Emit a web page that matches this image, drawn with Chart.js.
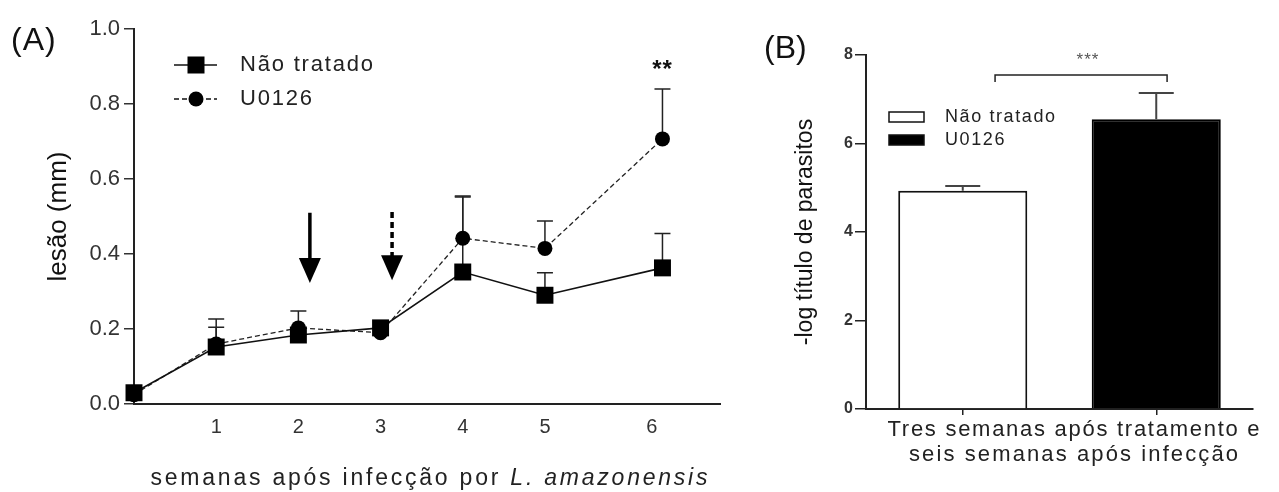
<!DOCTYPE html>
<html><head><meta charset="utf-8">
<script src="https://cdn.jsdelivr.net/npm/chart.js@4.4.1/dist/chart.umd.min.js"></script>
<style>
html,body{margin:0;padding:0;background:#fff;width:1279px;height:492px;overflow:hidden}
#a{position:absolute;left:0;top:0}
#b{position:absolute;left:740px;top:0}
</style></head><body>
<canvas id="a" width="740" height="492"></canvas>
<canvas id="b" width="539" height="492"></canvas>
<script>
// ---------- Panel A data ----------
const weeks = [0, 1, 2, 3, 4, 5, 6.43];
const weekTickValues = [1, 2, 3, 4, 5, 6.3];
const weekTickLabels = ['1', '2', '3', '4', '5', '6'];
const naoTratadoMean = [0.03, 0.152, 0.184, 0.203, 0.352, 0.29, 0.363];
const naoTratadoSem  = [0, 0.053, 0, 0, 0.2, 0.06, 0.092];
const u0126Mean = [0.025, 0.16, 0.203, 0.19, 0.442, 0.415, 0.707];
const u0126Sem  = [0, 0.067, 0.045, 0, 0.113, 0.073, 0.133];
const lesionTicks = [0, 0.2, 0.4, 0.6, 0.8, 1.0];
const arrowWeeks = [2.14, 3.14];
const arrowFrom = [0.51, 0.512];
const arrowTo = [0.323, 0.33];
const arrowDashed = [false, true];
const sigA = {week: 6.43, level: 0.89, text: '**'};

// ---------- Panel B data ----------
const groups = ['Não tratado', 'U0126'];
const parasiteLog = [4.93, 6.55];
const parasiteSem = [0.11, 0.59];
const parasiteTicks = [0, 2, 4, 6, 8];
const bracket = {from: 0.167, to: 1.056, level: 7.55, drop: 7.39, starLevel: 7.88, starAt: 0.647, text: '***'};

const FONT = "'Liberation Sans', Arial, sans-serif";

function spacedText(ctx, segs, x, y, opts) {
  ctx.save();
  ctx.textBaseline = 'middle';
  ctx.textAlign = 'left';
  ctx.fillStyle = opts.color || '#222';
  ctx.letterSpacing = '0px';
  let w0 = 0, n = 0;
  const widths = segs.map(s => { ctx.font = s.font; const w = ctx.measureText(s.text).width; w0 += w; n += s.text.length; return w; });
  let ls = opts.spacing || 0;
  if (opts.width) ls = (opts.width - w0) / Math.max(1, n - 1);
  const total = w0 + ls * (n - 1);
  let sx = opts.align === 'left' ? x : x - total / 2;
  ctx.letterSpacing = ls + 'px';
  segs.forEach((s, i) => {
    ctx.font = s.font;
    ctx.fillText(s.text, sx, y);
    sx += widths[i] + ls * s.text.length;
  });
  ctx.restore();
}

const panelAPlugin = {
  id: 'panelA',
  beforeDatasetsDraw(chart) {
    const {ctx, scales: {x, y}} = chart;
    ctx.save();
    ctx.strokeStyle = '#222';
    ctx.lineWidth = 1.5;
    chart.data.datasets.forEach(ds => {
      ds.data.forEach((p, i) => {
        const e = ds.errors[i];
        if (!e) return;
        const px = x.getPixelForValue(p.x), y0 = y.getPixelForValue(p.y), y1 = y.getPixelForValue(p.y + e);
        ctx.beginPath();
        ctx.moveTo(px, y0); ctx.lineTo(px, y1);
        ctx.moveTo(px - 8, y1); ctx.lineTo(px + 8, y1);
        ctx.stroke();
      });
    });
    ctx.restore();
  },
  afterDraw(chart) {
    const {ctx, chartArea: ca, scales: {x, y}} = chart;
    arrowWeeks.forEach((w, i) => {
      const px = x.getPixelForValue(w), yt = y.getPixelForValue(arrowFrom[i]), yb = y.getPixelForValue(arrowTo[i]);
      const headH = 25, headW = 11;
      ctx.save();
      ctx.strokeStyle = '#000'; ctx.fillStyle = '#000'; ctx.lineWidth = 3.5;
      if (arrowDashed[i]) ctx.setLineDash([6, 4]);
      ctx.beginPath(); ctx.moveTo(px, yt); ctx.lineTo(px, yb - headH + 2); ctx.stroke();
      ctx.setLineDash([]);
      ctx.beginPath();
      ctx.moveTo(px - headW, yb - headH); ctx.lineTo(px + headW, yb - headH); ctx.lineTo(px, yb);
      ctx.closePath(); ctx.fill();
      ctx.restore();
    });
    ctx.save();
    ctx.font = 'bold 24px ' + FONT; ctx.fillStyle = '#111'; ctx.textAlign = 'center'; ctx.textBaseline = 'middle';
    ctx.letterSpacing = '1px';
    ctx.fillText(sigA.text, x.getPixelForValue(sigA.week), y.getPixelForValue(sigA.level));
    ctx.restore();
    const ds = chart.data.datasets;
    const rows = [ca.top + 36, ca.top + 70];
    ds.forEach((d, i) => {
      const yy = rows[i];
      ctx.save();
      ctx.strokeStyle = '#111'; ctx.lineWidth = 1.5;
      if (d.borderDash) ctx.setLineDash(d.borderDash);
      ctx.beginPath(); ctx.moveTo(ca.left + 40, yy); ctx.lineTo(ca.left + 83, yy); ctx.stroke();
      ctx.setLineDash([]);
      ctx.fillStyle = '#000';
      const cx = ca.left + 62;
      if (d.pointStyle === 'rect') { ctx.fillRect(cx - 8.5, yy - 8.5, 17, 17); }
      else { ctx.beginPath(); ctx.arc(cx, yy, 7.5, 0, Math.PI * 2); ctx.fill(); }
      ctx.restore();
      spacedText(ctx, [{text: d.label, font: '22px ' + FONT}], ca.left + 106, yy, {align: 'left', spacing: 1.8, color: '#222'});
    });
    spacedText(ctx, [{text: '(A)', font: '32px ' + FONT}], 11, 41, {align: 'left', spacing: 1, color: '#111'});
    spacedText(ctx, [
      {text: 'semanas após infecção por ', font: '23px ' + FONT},
      {text: 'L. amazonensis', font: 'italic 23px ' + FONT}
    ], (ca.left + ca.right) / 2 + 2, 479, {width: 557, color: '#222'});
  }
};

new Chart(document.getElementById('a'), {
  type: 'scatter',
  data: {
    datasets: [
      {
        label: 'Não tratado',
        data: weeks.map((w, i) => ({x: w, y: naoTratadoMean[i]})),
        errors: naoTratadoSem,
        showLine: true, clip: false,
        borderColor: '#111', borderWidth: 1.6,
        pointStyle: 'rect', pointRadius: 12, pointHoverRadius: 12,
        pointBackgroundColor: '#000', pointBorderColor: '#000', pointBorderWidth: 0
      },
      {
        label: 'U0126',
        data: weeks.map((w, i) => ({x: w, y: u0126Mean[i]})),
        errors: u0126Sem,
        showLine: true, clip: false,
        borderColor: '#222', borderWidth: 1.3, borderDash: [5, 3],
        pointStyle: 'circle', pointRadius: 7.5, pointHoverRadius: 7.5,
        pointBackgroundColor: '#000', pointBorderColor: '#000', pointBorderWidth: 0
      }
    ]
  },
  options: {
    responsive: false, animation: false, devicePixelRatio: 1,
    layout: {padding: {left: 0, top: 29, right: 20, bottom: 0}},
    plugins: {legend: {display: false}, tooltip: {enabled: false}},
    scales: {
      x: {
        type: 'linear', min: 0, max: 7.13,
        afterFit(s) { s.height = 88; },
        afterBuildTicks(s) { s.ticks = weekTickValues.map(v => ({value: v})); },
        ticks: {callback: (v, i) => weekTickLabels[i], font: {family: FONT, size: 20}, color: '#333', padding: 11, maxRotation: 0, autoSkip: false},
        grid: {display: false, drawTicks: false},
        border: {display: true, color: '#222', width: 2}
      },
      y: {
        min: 0, max: 1,
        afterFit(s) { s.width = 134; },
        afterBuildTicks(s) { s.ticks = lesionTicks.map(v => ({value: v})); },
        ticks: {callback: v => v.toFixed(1), font: {family: FONT, size: 22}, color: '#333', padding: 4},
        grid: {drawOnChartArea: false, drawTicks: true, tickLength: 10, color: '#333', lineWidth: 1.5},
        border: {color: '#222', width: 2},
        title: {display: true, text: 'lesão (mm)', font: {family: FONT, size: 26}, color: '#111', padding: {top: 43, bottom: 0}}
      }
    }
  },
  plugins: [panelAPlugin]
});

const panelBPlugin = {
  id: 'panelB',
  afterDatasetsDraw(chart) {
    const {ctx, scales: {x, y}} = chart;
    ctx.save();
    ctx.strokeStyle = '#444'; ctx.lineWidth = 2;
    chart.data.datasets.forEach(ds => {
      ds.data.forEach((v, i) => {
        const e = ds.errors[i];
        if (v == null || !e) return;
        const px = x.getPixelForValue(i), y0 = y.getPixelForValue(v), y1 = y.getPixelForValue(v + e);
        ctx.beginPath();
        ctx.moveTo(px, y0); ctx.lineTo(px, y1);
        ctx.moveTo(px - 17.5, y1); ctx.lineTo(px + 17.5, y1);
        ctx.stroke();
      });
    });
    const bx0 = x.getPixelForValue(bracket.from), bx1 = x.getPixelForValue(bracket.to);
    const by = y.getPixelForValue(bracket.level), bd = y.getPixelForValue(bracket.drop);
    ctx.strokeStyle = '#222'; ctx.lineWidth = 1.5;
    ctx.beginPath();
    ctx.moveTo(bx0, bd); ctx.lineTo(bx0, by); ctx.lineTo(bx1, by); ctx.lineTo(bx1, bd);
    ctx.stroke();
    ctx.font = '17px ' + FONT; ctx.fillStyle = '#555'; ctx.textAlign = 'center'; ctx.textBaseline = 'middle';
    ctx.letterSpacing = '1px';
    ctx.fillText(bracket.text, x.getPixelForValue(bracket.starAt), y.getPixelForValue(bracket.starLevel));
    ctx.restore();
  },
  afterDraw(chart) {
    const {ctx, chartArea: ca} = chart;
    const ds = chart.data.datasets;
    const rows = [ca.top + 62, ca.top + 85];
    ds.forEach((d, i) => {
      const yy = rows[i];
      ctx.save();
      ctx.fillStyle = d.backgroundColor; ctx.strokeStyle = '#111'; ctx.lineWidth = 1.5;
      ctx.fillRect(ca.left + 23, yy - 5, 35, 10);
      ctx.strokeRect(ca.left + 23, yy - 5, 35, 10);
      ctx.restore();
      spacedText(ctx, [{text: d.label, font: '18px ' + FONT}], ca.left + 79, yy, {align: 'left', spacing: 1.6, color: '#222'});
    });
    spacedText(ctx, [{text: '(B)', font: '32px ' + FONT}], 24, 49, {align: 'left', spacing: 0, color: '#111'});
    const cx = (ca.left + ca.right) / 2 + 14;
    spacedText(ctx, [{text: 'Tres semanas após tratamento e', font: '22px ' + FONT}], cx, ca.bottom + 21, {width: 372, color: '#222'});
    spacedText(ctx, [{text: 'seis semanas após infecção', font: '22px ' + FONT}], cx, ca.bottom + 46, {width: 329, color: '#222'});
  }
};

new Chart(document.getElementById('b'), {
  type: 'bar',
  data: {
    labels: groups,
    datasets: [
      {label: groups[0], data: [parasiteLog[0], null], errors: [parasiteSem[0], null], backgroundColor: '#fff', borderColor: '#111', borderWidth: 2},
      {label: groups[1], data: [null, parasiteLog[1]], errors: [null, parasiteSem[1]], backgroundColor: '#000', borderColor: '#000', borderWidth: 2}
    ]
  },
  options: {
    responsive: false, animation: false, devicePixelRatio: 1,
    layout: {padding: {left: 0, top: 55, right: 26, bottom: 0}},
    datasets: {bar: {grouped: false, categoryPercentage: 1, barPercentage: 0.667}},
    plugins: {legend: {display: false}, tooltip: {enabled: false}},
    scales: {
      x: {
        afterFit(s) { s.height = 83; },
        ticks: {display: false},
        grid: {display: true, drawOnChartArea: false, drawTicks: true, tickLength: 6, offset: false, color: '#222', lineWidth: 1.5},
        border: {color: '#222', width: 2}
      },
      y: {
        min: 0, max: 8,
        afterFit(s) { s.width = 126; },
        afterBuildTicks(s) { s.ticks = parasiteTicks.map(v => ({value: v})); },
        ticks: {font: {family: FONT, size: 16, weight: 'bold'}, color: '#333', padding: 2},
        grid: {drawOnChartArea: false, drawTicks: true, tickLength: 11, color: '#222', lineWidth: 1.5},
        border: {color: '#222', width: 2},
        title: {display: true, text: '-log título de parasitos', font: {family: FONT, size: 23}, color: '#111', padding: {top: 52, bottom: 0}}
      }
    }
  },
  plugins: [panelBPlugin]
});
</script>
</body></html>
